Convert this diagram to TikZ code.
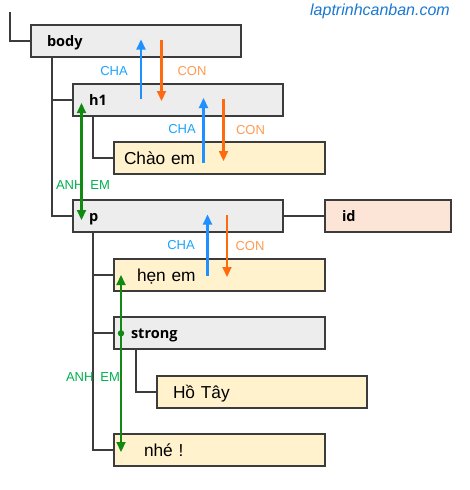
\documentclass[tikz,border=0pt]{standalone}
\usepackage{fontspec}
\setmainfont{Liberation Sans}
\newfontfamily\tagfont{Open Sans}
\usetikzlibrary{arrows.meta}
\definecolor{boxgray}{HTML}{EDEDED}
\definecolor{leafyellow}{HTML}{FFF2CC}
\definecolor{attrpeach}{HTML}{FCE4D6}
\definecolor{edge}{HTML}{3C3C3C}
\definecolor{chablue}{HTML}{1E90FF}
\definecolor{chalabel}{HTML}{1AA3FF}
\definecolor{conorange}{HTML}{FF6A10}
\definecolor{conlabel}{HTML}{FF9A50}
\definecolor{anhgreen}{HTML}{128A12}
\definecolor{anhlabel}{HTML}{00B050}
\definecolor{urlblue}{HTML}{1A78D2}
\begin{document}
\begin{tikzpicture}[x=1pt,y=-1pt,
  every node/.style={inner sep=0pt, outer sep=0pt},
  boxbase/.style={draw=edge, line width=1.4pt, minimum height=32pt, anchor=north west, align=left},
  tagbox/.style={boxbase, fill=boxgray, font=\tagfont\fontsize{14.5}{18}\bfseries\selectfont, text height=13.4pt, text depth=2pt},
  attrbox/.style={tagbox, fill=attrpeach},
  leafbox/.style={boxbase, fill=leafyellow, font=\fontsize{17.3}{20}\selectfont, text height=16pt, text depth=4pt},
  treeline/.style={draw=edge, line width=1.4pt},
  upar/.style={chablue, line width=2.2pt, -{Triangle[width=9pt,length=10pt]}},
  downar/.style={conorange, line width=2.2pt, -{Triangle[width=9pt,length=10pt]}},
  sibar/.style={anhgreen, line width=2.2pt, {Triangle[width=9pt,length=10pt]}-{Triangle[width=9pt,length=10pt]}},
  chatext/.style={text=chalabel, font=\fontsize{13}{15}\selectfont},
  context/.style={text=conlabel, font=\fontsize{13}{15}\selectfont},
  anhtext/.style={text=anhlabel, font=\fontsize{13}{15}\selectfont}
]
\useasboundingbox (0,0) rectangle (470,490);

% URL
\node[text=urlblue, font=\fontsize{16}{19}\itshape\selectfont] (url) at (380,11) {laptrinhcanban.com};

% boxes
\node[tagbox, text width=178pt, inner xsep=16pt] (body) at (31,25) {body};
\node[tagbox, text width=178pt, inner xsep=16pt] (h1) at (73,84) {h1};
\node[leafbox, text width=191pt, inner xsep=10pt] (chao) at (114,142) {Chào em};
\node[tagbox, text width=178pt, inner xsep=16pt] (p) at (73,200) {p};
\node[attrbox, text width=92pt, inner xsep=17pt] (id) at (325,200) {id};
\node[leafbox, text width=165pt, inner xsep=23pt] (hen) at (114,259) {hẹn em};
\node[tagbox, text width=177pt, inner xsep=17pt] (strong) at (114,317) {strong};
\node[leafbox, text width=178pt, inner xsep=16pt] (hotay) at (157,376) {Hồ Tây};
\node[leafbox, text width=151pt, inner xsep=30pt] (nhe) at (114,434) {nhé !};

% tree connectors
\coordinate (root) at (10,12);
\draw[treeline] (root) |- (body.west);
\draw[treeline] ([xshift=21pt]body.south west) |- (h1.west);
\draw[treeline] ([xshift=21pt]body.south west) |- (p.west);
\draw[treeline] ([xshift=20pt]h1.south west) |- (chao.west);
\draw[treeline] (p.east) -- (id.west);
\draw[treeline] ([xshift=20pt]p.south west) |- (hen.west);
\draw[treeline] ([xshift=20pt]p.south west) |- (strong.west);
\draw[treeline] ([xshift=20pt]p.south west) |- (nhe.west);
\draw[treeline] ([xshift=22pt]strong.south west) |- (hotay.west);

% CHA / CON arrows
\draw[upar] (141,99) -- (141,39.5);
\draw[downar] (161.5,39.5) -- (161.5,101);
\node[chatext] (cha1) at (114,71) {CHA};
\node[context] (con1) at (192,71) {CON};

\draw[upar] (203.5,162.5) -- (203.5,98);
\draw[downar] (223.5,99) -- (223.5,161);
\node[chatext] (cha2) at (182,129.5) {CHA};
\node[context] (con2) at (250.5,130.5) {CON};

\draw[upar] (207.5,276) -- (207.5,214.5);
\draw[downar] (227,215) -- (227,277);
\node[chatext] (cha3) at (181,245) {CHA};
\node[context] (con3) at (250,246) {CON};

% ANH EM arrows
\node[anhtext] (anh1) at (83,185.5) {ANH\hspace{7pt}EM};
\draw[sibar] (81.5,103) -- (81.5,220);
\node[anhtext] (anh2) at (93,377) {ANH\hspace{7pt}EM};
\draw[sibar] (121,275) -- (121,452);
\fill[anhgreen] (121,333.3) circle (3.2pt);
\end{tikzpicture}
\end{document}
